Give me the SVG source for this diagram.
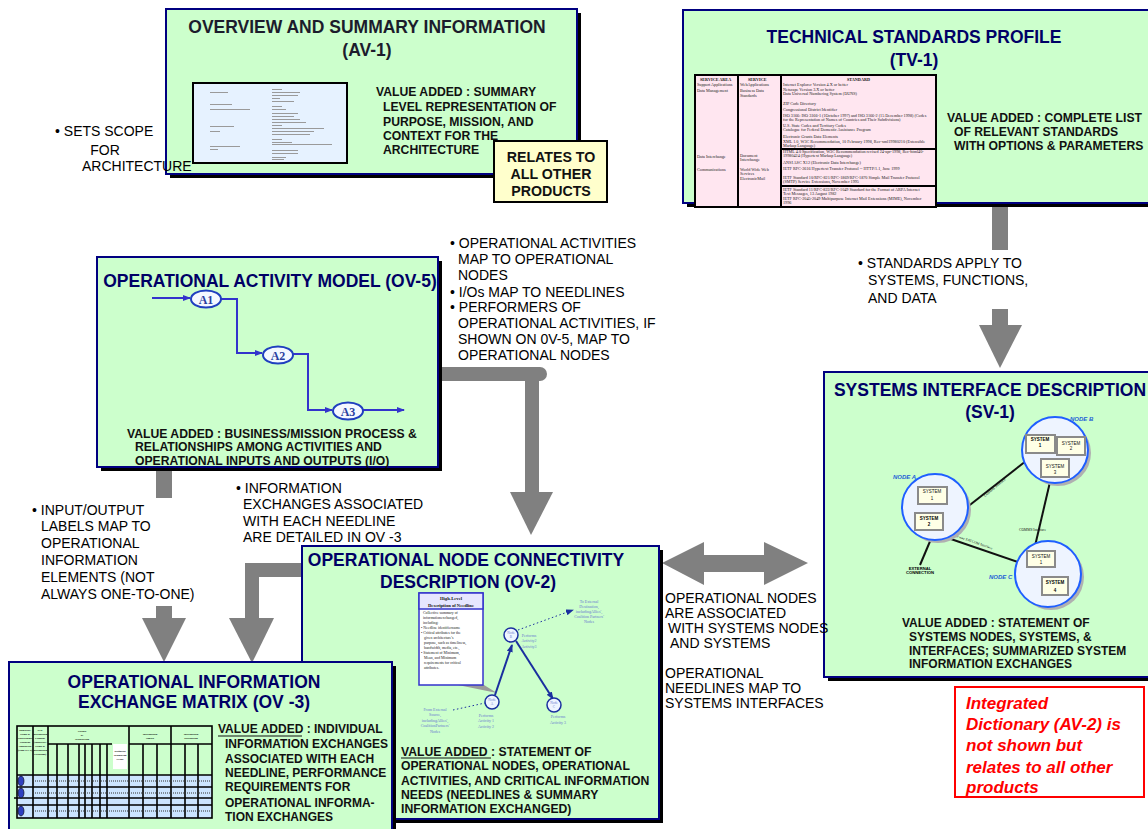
<svg xmlns="http://www.w3.org/2000/svg" width="1148" height="829" viewBox="0 0 1148 829">
<defs>
<style>
.box{fill:#ccffcc;stroke:#000080;stroke-width:2}
.shd{fill:#000}
.title{font-family:"Liberation Sans",Arial,sans-serif;font-weight:bold;font-size:17.5px;fill:#000066;text-anchor:middle}
.va{font-family:"Liberation Sans",Arial,sans-serif;font-weight:bold;font-size:12.2px;fill:#111}
.va12{font-family:"Liberation Sans",Arial,sans-serif;font-weight:bold;font-size:12px;fill:#111}
.note{font-family:"Liberation Sans",Arial,sans-serif;font-size:14px;fill:#000}
.gr{fill:#808080}
.grs{fill:none;stroke:#808080;stroke-width:14}
.tt{font-family:"Liberation Serif","Times New Roman",serif;font-size:4.2px;fill:#222}
.tth{font-family:"Liberation Serif","Times New Roman",serif;font-size:4.2px;font-weight:bold;fill:#111}
.tv{stroke:#000;stroke-width:2;fill:none}
.blu{fill:none;stroke:#3333cc;stroke-width:2}
.act{fill:#f4f8ff;stroke:#1f3fbf;stroke-width:2}
.actt{font-family:"Liberation Serif","Times New Roman",serif;font-weight:bold;font-size:12px;fill:#2a3f9f;text-anchor:middle}
.cir{fill:#eef4ff;stroke:#1f5fff;stroke-width:2}
.cshd{fill:#b0b0b0}
.sys{fill:#ffffe6;stroke:#8a8a8a;stroke-width:2}
.syst{font-family:"Liberation Sans",Arial,sans-serif;font-size:4.5px;fill:#111;text-anchor:middle}
.systb{font-family:"Liberation Sans",Arial,sans-serif;font-size:4.5px;font-weight:bold;fill:#000;text-anchor:middle}
.nodel{font-family:"Liberation Sans",Arial,sans-serif;font-size:6px;font-weight:bold;font-style:italic;fill:#1f5fd6}
.lnk{stroke:#111;stroke-width:2;fill:none}
.tiny{font-family:"Liberation Serif","Times New Roman",serif;font-size:3.6px;fill:#111}
.ovt{font-family:"Liberation Serif","Times New Roman",serif;font-size:4px;fill:#6a7ad0;text-anchor:middle}
.nb{font-family:"Liberation Serif","Times New Roman",serif;font-size:3.8px;fill:#222}
.nbh{font-family:"Liberation Serif","Times New Roman",serif;font-size:4.6px;font-weight:bold;fill:#111;text-anchor:middle}
.mx{font-family:"Liberation Serif","Times New Roman",serif;font-size:2.8px;font-weight:bold;fill:#111;text-anchor:middle}
.red{font-family:"Liberation Sans",Arial,sans-serif;font-size:17px;font-weight:bold;font-style:italic;fill:#ff0000}
.doc{fill:#9a9a9a}
</style>
<marker id="ab" viewBox="0 0 8 6" refX="7" refY="3" markerWidth="8" markerHeight="6" markerUnits="userSpaceOnUse" orient="auto"><path d="M0,0 L8,3 L0,6 z" fill="#3333cc"/></marker>
<marker id="an" viewBox="0 0 8 6" refX="7" refY="3" markerWidth="8" markerHeight="6" markerUnits="userSpaceOnUse" orient="auto"><path d="M0,0 L8,3 L0,6 z" fill="#1a2f9f"/></marker>
</defs>
<rect width="1148" height="829" fill="#fff"/>

<g id="connectors">
  <path class="grs" d="M436,374 H540" stroke-linecap="round"/>
  <path class="grs" d="M532,374 V495"/>
  <polygon class="gr" points="510,492 553,492 531,535"/>
  <rect class="gr" x="156" y="468" width="16" height="30"/>
  <rect class="gr" x="156" y="606" width="16" height="13"/>
  <polygon class="gr" points="142,618 186,618 164,662"/>
  <polyline class="grs" points="304,570 252,570 252,620" stroke-linejoin="miter"/>
  <polygon class="gr" points="229,618 274,618 252,663"/>
  <rect class="gr" x="992" y="203" width="16" height="47"/>
  <rect class="gr" x="992" y="309" width="16" height="17"/>
  <polygon class="gr" points="979,325 1022,325 1000,368"/>
  <polygon class="gr" points="662,563 704,542 704,555 764,555 764,542 808,563 764,585 764,572 704,572 704,585"/>
</g>

<g id="av1">
  <rect class="shd" x="170" y="13" width="411" height="165"/>
  <rect class="box" x="166" y="9" width="411" height="165"/>
  <text x="367" y="33" class="title" style="fill:#1c1c2c">OVERVIEW AND SUMMARY INFORMATION</text>
  <text x="367" y="56" class="title" style="fill:#1c1c2c">(AV-1)</text>
  <rect x="193" y="83" width="154" height="80" fill="#e6f2ff" stroke="#000" stroke-width="2"/>
  <g class="doc">
    <rect x="210" y="92" width="18" height="1"/>
    <rect x="210" y="104" width="22" height="1"/>
    <rect x="210" y="109" width="40" height="1"/>
    <rect x="210" y="126" width="24" height="1"/>
    <rect x="210" y="131" width="10" height="1"/>
    <rect x="210" y="146" width="30" height="1"/>
    <rect x="210" y="149" width="8" height="1"/>
    <rect x="272" y="89" width="10" height="1"/>
    <rect x="272" y="92" width="28" height="1"/>
    <rect x="272" y="95" width="26" height="1"/>
    <rect x="272" y="98" width="8" height="1"/>
    <rect x="272" y="101" width="22" height="1"/>
    <rect x="272" y="106" width="10" height="1"/>
    <rect x="272" y="109" width="14" height="1"/>
    <rect x="272" y="113" width="26" height="1"/>
    <rect x="272" y="116" width="22" height="1"/>
    <rect x="272" y="119" width="28" height="1"/>
    <rect x="272" y="122" width="34" height="1"/>
    <rect x="272" y="125" width="10" height="1"/>
    <rect x="272" y="128" width="52" height="1"/>
    <rect x="272" y="131" width="42" height="1"/>
    <rect x="272" y="134" width="38" height="1"/>
    <rect x="272" y="139" width="10" height="1"/>
    <rect x="272" y="142" width="20" height="1"/>
    <rect x="272" y="144" width="60" height="1"/>
    <rect x="272" y="150" width="26" height="1"/>
    <rect x="272" y="153" width="26" height="1"/>
    <rect x="272" y="157" width="14" height="1"/>
    <rect x="272" y="159" width="12" height="1"/>
  </g>
  <text class="va" x="376" y="96">VALUE ADDED : SUMMARY</text>
  <text class="va" x="383" y="111">LEVEL REPRESENTATION OF</text>
  <text class="va" x="383" y="126">PURPOSE, MISSION, AND</text>
  <text class="va" x="383" y="140">CONTEXT FOR THE</text>
  <text class="va" x="383" y="154">ARCHITECTURE</text>
</g>

<g id="relates">
  <rect x="494" y="141" width="113" height="61" fill="#ffffcc" stroke="#000" stroke-width="2"/>
  <text x="551" y="162" class="va12" text-anchor="middle" style="font-size:14.2px">RELATES TO</text>
  <text x="551" y="179" class="va12" text-anchor="middle" style="font-size:14.2px">ALL OTHER</text>
  <text x="551" y="196" class="va12" text-anchor="middle" style="font-size:14.2px">PRODUCTS</text>
</g>

<g id="note-scope">
  <text class="note" x="55" y="136">• SETS SCOPE</text>
  <text class="note" x="105" y="155" text-anchor="middle">FOR</text>
  <text class="note" x="82" y="171">ARCHITECTURE</text>
</g>

<g id="tv1">
  <rect class="shd" x="687" y="14" width="470" height="193"/>
  <rect class="box" x="683" y="10" width="470" height="193"/>
  <text x="914" y="43" class="title">TECHNICAL STANDARDS  PROFILE</text>
  <text x="914" y="66" class="title">(TV-1)</text>
  <rect x="695" y="75" width="241" height="132" fill="#ffe6f0"/>
  <g class="tt">
    <text class="tth" x="700" y="81">SERVICE AREA</text>
    <text class="tth" x="748" y="81">SERVICE</text>
    <text class="tth" x="847" y="81">STANDARD</text>
    <text x="697" y="86">Support Applications</text>
    <text x="697" y="92">Data Management</text>
    <text x="697" y="158">Data Interchange</text>
    <text x="697" y="171">Communications</text>
    <text x="740" y="86">WebApplications</text>
    <text x="740" y="92">Business Data</text>
    <text x="740" y="97">Standards</text>
    <text x="740" y="157">Document</text>
    <text x="740" y="161">Interchange</text>
    <text x="740" y="171">World Wide Web</text>
    <text x="740" y="175">Services</text>
    <text x="740" y="180">ElectronicMail</text>
    <text x="783" y="86">Internet Explorer Version 4.X or better</text>
    <text x="783" y="91">Netscape Version 3.X or better</text>
    <text x="783" y="95">Data Universal Numbering System (DUNS)</text>
    <text x="783" y="105">ZIP Code Directory</text>
    <text x="783" y="111">Congressional District Identifier</text>
    <text x="783" y="117">ISO 3166: ISO 3166-1 (1October 1997) and ISO 3166-2 (15 December 1998) (Codes</text>
    <text x="783" y="121">for the Representation of Names of Countries and Their Subdivisions)</text>
    <text x="783" y="127">U.S. State Codes and Territory Codes</text>
    <text x="783" y="131">Catalogue for Federal Domestic Assistance Program</text>
    <text x="783" y="138">Electronic Grants Data Elements</text>
    <text x="783" y="143">XML 1.0, W3C Recommendation, 10 February 1998, Rec-xml19980210 (Extensible</text>
    <text x="783" y="147">Markup Language)</text>
    <text x="783" y="153">HTML 4.0 Specification, W3C Recommendation revised 24-apr-1998, Rec-html40-</text>
    <text x="783" y="157">19980424 (Hypertext Markup Language)</text>
    <text x="783" y="164">ANSI ASC X12 (Electronic Data Interchange)</text>
    <text x="783" y="170">IETF RFC-2616 Hypertext Transfer Protocol -- HTTP/1.1, June 1999</text>
    <text x="783" y="179">IETF Standard 10/RFC-821/RFC-1869/RFC-1870 Simple Mail Transfer Protocol</text>
    <text x="783" y="183">(SMTP) Service Extensions, November 1995</text>
    <text x="783" y="191">IETF Standard 11/RFC-822/RFC-1049 Standard for the Format of ARPA Internet</text>
    <text x="783" y="195">Text Messages, 13 August 1982</text>
    <text x="783" y="200">IETF RFC-2045-2049 Multipurpose Internet Mail Extensions (MIME), November</text>
    <text x="783" y="204">1996</text>
  </g>
  <rect class="tv" x="695" y="75" width="241" height="132"/>
  <line class="tv" x1="738" y1="75" x2="738" y2="207"/>
  <line class="tv" x1="781" y1="75" x2="781" y2="207"/>
  <line class="tv" x1="781" y1="149" x2="936" y2="149"/>
  <line class="tv" x1="781" y1="186" x2="936" y2="186"/>
  <text class="va" x="947" y="122">VALUE ADDED : COMPLETE LIST</text>
  <text class="va" x="954" y="136">OF RELEVANT STANDARDS</text>
  <text class="va" x="954" y="150">WITH OPTIONS &amp; PARAMETERS</text>
</g>

<g id="note-standards">
  <text class="note" x="858" y="268">• STANDARDS APPLY TO</text>
  <text class="note" x="868" y="285">SYSTEMS, FUNCTIONS,</text>
  <text class="note" x="868" y="303">AND DATA</text>
</g>

<g id="ov5">
  <rect class="shd" x="101" y="261" width="341" height="210"/>
  <rect class="box" x="97" y="257" width="341" height="210"/>
  <text x="270" y="287" class="title">OPERATIONAL ACTIVITY MODEL (OV-5)</text>
  <path class="blu" d="M152,298 H190" marker-end="url(#ab)"/>
  <path class="blu" d="M221,299 H237 V353 H262" marker-end="url(#ab)"/>
  <path class="blu" d="M293,354 H308 V410 H332" marker-end="url(#ab)"/>
  <path class="blu" d="M363,410 H404" marker-end="url(#ab)"/>
  <ellipse class="act" cx="206" cy="299" rx="15" ry="8.5"/>
  <text class="actt" x="206" y="303.5">A1</text>
  <ellipse class="act" cx="278" cy="355" rx="15" ry="8.5"/>
  <text class="actt" x="278" y="359.5">A2</text>
  <ellipse class="act" cx="348" cy="411" rx="15" ry="8.5"/>
  <text class="actt" x="348" y="415.5">A3</text>
  <text class="va" x="127" y="438">VALUE ADDED : BUSINESS/MISSION PROCESS &amp;</text>
  <text class="va" x="135" y="451">RELATIONSHIPS AMONG ACTIVITIES AND</text>
  <text class="va" x="135" y="465">OPERATIONAL INPUTS AND OUTPUTS (I/O)</text>
</g>

<g id="note-mapping">
  <text class="note" x="450" y="248">• OPERATIONAL ACTIVITIES</text>
  <text class="note" x="458" y="264">MAP TO OPERATIONAL</text>
  <text class="note" x="458" y="280">NODES</text>
  <text class="note" x="450" y="297">• I/Os MAP TO NEEDLINES</text>
  <text class="note" x="450" y="312">• PERFORMERS OF</text>
  <text class="note" x="458" y="328">OPERATIONAL ACTIVITIES, IF</text>
  <text class="note" x="458" y="344">SHOWN ON 0V-5,  MAP TO</text>
  <text class="note" x="458" y="360">OPERATIONAL NODES</text>
</g>

<g id="note-io">
  <text class="note" x="32" y="515">• INPUT/OUTPUT</text>
  <text class="note" x="41" y="531">LABELS MAP TO</text>
  <text class="note" x="41" y="548">OPERATIONAL</text>
  <text class="note" x="41" y="565">INFORMATION</text>
  <text class="note" x="41" y="582">ELEMENTS (NOT</text>
  <text class="note" x="41" y="599">ALWAYS ONE-TO-ONE)</text>
</g>

<g id="note-ie">
  <text class="note" x="236" y="493">• INFORMATION</text>
  <text class="note" x="243" y="509">EXCHANGES ASSOCIATED</text>
  <text class="note" x="243" y="526">WITH EACH NEEDLINE</text>
  <text class="note" x="243" y="542">ARE DETAILED IN OV -3</text>
</g>

<g id="sv1">
  <rect class="shd" x="828" y="376" width="330" height="305"/>
  <rect class="box" x="824" y="372" width="330" height="305"/>
  <text x="990" y="396" class="title">SYSTEMS INTERFACE DESCRIPTION</text>
  <text x="990" y="418" class="title">(SV-1)</text>
  <line class="lnk" x1="966" y1="508" x2="1026" y2="461"/>
  <line class="lnk" x1="1050" y1="482" x2="1035" y2="546"/>
  <line class="lnk" x1="945" y1="537" x2="1018" y2="562" stroke-width="2.6"/>
  <line class="lnk" x1="931" y1="539" x2="920" y2="565"/>
  <text class="tiny" transform="translate(985,497) rotate(-40)">COMMS Interface</text>
  <text class="tiny" x="1019" y="531">COMMS Interface</text>
  <text class="tiny" transform="translate(956,537) rotate(19)">2-way SATCOM Interface</text>
  <text class="systb" x="920" y="570" style="font-size:4.2px">EXTERNAL</text>
  <text class="systb" x="920" y="574" style="font-size:4.2px">CONNECTION</text>
  <circle class="cshd" cx="1058" cy="453" r="33"/>
  <circle class="cir" cx="1055" cy="450" r="33"/>
  <circle class="cshd" cx="938" cy="510" r="33"/>
  <circle class="cir" cx="935" cy="507" r="33"/>
  <circle class="cshd" cx="1051" cy="577" r="33"/>
  <circle class="cir" cx="1048" cy="574" r="33"/>
  <text class="nodel" x="1070" y="421">NODE B</text>
  <text class="nodel" x="893" y="479">NODE A</text>
  <text class="nodel" x="989" y="579">NODE C</text>
  <rect class="sys" x="1026" y="435" width="29" height="18"/>
  <text class="systb" x="1040" y="441">SYSTEM</text><text class="systb" x="1040" y="447">1</text>
  <rect class="sys" x="1057" y="437" width="28" height="18"/>
  <text class="syst" x="1071" y="445">SYSTEM</text><text class="syst" x="1071" y="450">2</text>
  <rect class="sys" x="1041" y="459" width="28" height="18"/>
  <text class="syst" x="1055" y="468">SYSTEM</text><text class="syst" x="1055" y="474">3</text>
  <rect class="sys" x="918" y="487" width="29" height="17"/>
  <text class="syst" x="932" y="493">SYSTEM</text><text class="syst" x="932" y="500">1</text>
  <rect class="sys" x="915" y="513" width="28" height="17"/>
  <text class="systb" x="929" y="520">SYSTEM</text><text class="systb" x="929" y="526">2</text>
  <rect class="sys" x="1027" y="551" width="28" height="16"/>
  <text class="syst" x="1041" y="558">SYSTEM</text><text class="syst" x="1041" y="564">1</text>
  <rect class="sys" x="1042" y="577" width="26" height="18"/>
  <text class="systb" x="1055" y="584">SYSTEM</text><text class="systb" x="1055" y="592">4</text>
  <text class="va12" x="902" y="627">VALUE ADDED : STATEMENT OF</text>
  <text class="va12" x="909" y="641">SYSTEMS NODES, SYSTEMS, &amp;</text>
  <text class="va12" x="909" y="655">INTERFACES; SUMMARIZED SYSTEM</text>
  <text class="va12" x="909" y="668">INFORMATION EXCHANGES</text>
</g>

<g id="note-assoc">
  <text class="note" x="665" y="603">OPERATIONAL NODES</text>
  <text class="note" x="665" y="618">ARE ASSOCIATED</text>
  <text class="note" x="668" y="633">WITH SYSTEMS NODES</text>
  <text class="note" x="670" y="648">AND SYSTEMS</text>
  <text class="note" x="665" y="678">OPERATIONAL</text>
  <text class="note" x="665" y="693">NEEDLINES MAP TO</text>
  <text class="note" x="665" y="708">SYSTEMS INTERFACES</text>
</g>

<g id="ov2">
  <rect class="shd" x="306" y="550" width="357" height="273"/>
  <rect class="box" x="302" y="546" width="357" height="273"/>
  <text x="466" y="566" class="title">OPERATIONAL NODE CONNECTIVITY</text>
  <text x="468" y="588" class="title">DESCRIPTION (OV-2)</text>
  <polygon points="458,685 484,685 497,693" fill="#9a9a9a"/>
  <rect x="419" y="593" width="64" height="92" fill="#fff" stroke="#3333cc" stroke-width="1.5"/>
  <rect x="419" y="593" width="64" height="16" fill="#e6e6ff" stroke="#3333cc" stroke-width="1.5"/>
  <text class="nbh" x="451" y="600">High-Level</text>
  <text class="nbh" x="451" y="607">Description of Needline</text>
  <g class="nb">
    <text x="423" y="614">Collective summary of</text>
    <text x="423" y="619">informationexchanged,</text>
    <text x="423" y="624">including:</text>
    <text x="421" y="629">•  Needline identifiername</text>
    <text x="421" y="634">•  Critical  attributes  for the</text>
    <text x="424" y="639">given  architecture's</text>
    <text x="424" y="644">purpose, such as timeliness,</text>
    <text x="424" y="649">bandwidth, media, etc.,</text>
    <text x="421" y="654">•  Statement of Minimum,</text>
    <text x="424" y="659">Mean, and Minimum</text>
    <text x="424" y="664">requirements for critical</text>
    <text x="424" y="669">attributes.</text>
  </g>
  <path d="M453,710 L485,703" fill="none" stroke="#1a2f9f" stroke-width="1" stroke-dasharray="1.5,2.5"/>
  <path d="M518,630 L573,610" fill="none" stroke="#1a2f9f" stroke-width="1" stroke-dasharray="1.5,2.5" marker-end="url(#an)"/>
  <path d="M495,695 L512,645" fill="none" stroke="#1a2f9f" stroke-width="2" marker-end="url(#an)"/>
  <path d="M516,641 L553,699" fill="none" stroke="#1a2f9f" stroke-width="2" marker-end="url(#an)"/>
  <circle cx="511" cy="635" r="7" fill="#eef4ff" stroke="#1a2f9f" stroke-width="1.5"/>
  <text class="ovt" x="511" y="634" style="font-size:3.4px">Node</text><text class="ovt" x="511" y="638" style="font-size:3.4px">B</text>
  <circle cx="492" cy="702" r="7" fill="#eef4ff" stroke="#1a2f9f" stroke-width="1.5"/>
  <text class="ovt" x="492" y="701" style="font-size:3.4px">Node</text><text class="ovt" x="492" y="705" style="font-size:3.4px">A</text>
  <circle cx="554" cy="705" r="7" fill="#eef4ff" stroke="#1a2f9f" stroke-width="1.5"/>
  <text class="ovt" x="554" y="704" style="font-size:3.4px">Node</text><text class="ovt" x="554" y="708" style="font-size:3.4px">C</text>
  <text class="ovt" x="589" y="603">To External</text>
  <text class="ovt" x="589" y="608">Destination,</text>
  <text class="ovt" x="589" y="613">includingAllies',</text>
  <text class="ovt" x="589" y="618">Coalition Partners'</text>
  <text class="ovt" x="589" y="623">Nodes</text>
  <text class="ovt" x="529" y="637">Performs</text>
  <text class="ovt" x="529" y="642">Activity2</text>
  <text class="ovt" x="529" y="648">Activity3</text>
  <text class="ovt" x="435" y="711">From External</text>
  <text class="ovt" x="435" y="716">Source,</text>
  <text class="ovt" x="435" y="722">includingAllies',</text>
  <text class="ovt" x="435" y="727">CoalitionPartners'</text>
  <text class="ovt" x="435" y="733">Nodes</text>
  <text class="ovt" x="486" y="717">Performs</text>
  <text class="ovt" x="486" y="722">Activity 1</text>
  <text class="ovt" x="486" y="728">Activity 2</text>
  <text class="ovt" x="558" y="718">Performs</text>
  <text class="ovt" x="558" y="724">Activity 3</text>
  <text class="va" x="401" y="756">VALUE ADDED : STATEMENT OF</text>
  <line x1="401" y1="758" x2="491" y2="758" stroke="#111" stroke-width="1.2"/>
  <text class="va" x="401" y="770">OPERATIONAL NODES, OPERATIONAL</text>
  <text class="va" x="401" y="785">ACTIVITIES,  AND CRITICAL INFORMATION</text>
  <text class="va" x="401" y="799">NEEDS  (NEEDLINES &amp; SUMMARY</text>
  <text class="va" x="401" y="813">INFORMATION EXCHANGED)</text>
</g>

<g id="ov3">
  <rect class="shd" x="13" y="666" width="383" height="180"/>
  <rect class="box" x="9" y="662" width="383" height="180"/>
  <text x="194" y="688" class="title">OPERATIONAL INFORMATION</text>
  <text x="194" y="708" class="title">EXCHANGE MATRIX (OV -3)</text>
  <rect x="17" y="726" width="195" height="92" fill="#ccffcc"/>
  <rect x="113" y="744" width="14" height="25" fill="#fff"/>
  <rect x="17" y="775" width="195" height="43" fill="#cce4ff"/>
  <g stroke="#000" stroke-width="1.6" fill="none">
    <rect x="17" y="726" width="195" height="92"/>
    <line x1="33" y1="726" x2="33" y2="818"/>
    <line x1="48" y1="726" x2="48" y2="818"/>
    <line x1="57" y1="744" x2="57" y2="818"/>
    <line x1="68" y1="744" x2="68" y2="818"/>
    <line x1="79" y1="744" x2="79" y2="818"/>
    <line x1="85" y1="744" x2="85" y2="818"/>
    <line x1="92" y1="744" x2="92" y2="818"/>
    <line x1="100" y1="744" x2="100" y2="818"/>
    <line x1="107" y1="744" x2="107" y2="818"/>
    <line x1="129" y1="726" x2="129" y2="818"/>
    <line x1="143" y1="744" x2="143" y2="818"/>
    <line x1="157" y1="744" x2="157" y2="818"/>
    <line x1="171" y1="726" x2="171" y2="818"/>
    <line x1="185" y1="744" x2="185" y2="818"/>
    <line x1="198" y1="744" x2="198" y2="818"/>
    <line x1="48" y1="744" x2="112" y2="744"/>
    <line x1="129" y1="744" x2="212" y2="744"/>
    <line x1="17" y1="775" x2="212" y2="775"/>
    <line x1="17" y1="787" x2="212" y2="787"/>
    <line x1="14" y1="798" x2="212" y2="798"/>
    <line x1="17" y1="805" x2="212" y2="805"/>
  </g>
  <g stroke="#333" stroke-width="1.2" stroke-dasharray="1,1">
    <line x1="35" y1="781" x2="210" y2="781"/>
    <line x1="35" y1="793" x2="210" y2="793"/>
    <line x1="35" y1="811" x2="210" y2="811"/>
  </g>
  <ellipse cx="21" cy="781" rx="3" ry="5" fill="#2f3fbf" stroke="#000" stroke-width="0.6"/>
  <ellipse cx="21" cy="793" rx="3" ry="5" fill="#2f3fbf" stroke="#000" stroke-width="0.6"/>
  <ellipse cx="21" cy="811" rx="3" ry="5" fill="#2f3fbf" stroke="#000" stroke-width="0.6"/>
  <g class="mx">
    <text x="25" y="731">Identifier/</text>
    <text x="25" y="735">Name of</text>
    <text x="25" y="739">Operational</text>
    <text x="25" y="743">Needline</text>
    <text x="25" y="747">Supported</text>
    <text x="25" y="751">(from OV-2)</text>
    <text x="40" y="731">IER</text>
    <text x="40" y="735">Information</text>
    <text x="40" y="739">Element</text>
    <text x="40" y="743">(Identifier/</text>
    <text x="40" y="747">Name of</text>
    <text x="40" y="751">Information</text>
    <text x="40" y="755">Exchange)</text>
    <text x="82" y="732">Nature</text>
    <text x="82" y="736">of</text>
    <text x="82" y="740">Transaction</text>
    <text x="120" y="752">Required</text>
    <text x="120" y="756">Triggering</text>
    <text x="120" y="760">Event</text>
    <text x="150" y="735">Information</text>
    <text x="150" y="739">Source</text>
    <text x="191" y="735">Information</text>
    <text x="191" y="739">Destination</text>
  </g>
  <text class="va12" x="218" y="733">VALUE ADDED : INDIVIDUAL</text>
  <line x1="218" y1="736" x2="302" y2="736" stroke="#111" stroke-width="1.2"/>
  <text class="va12" x="225" y="748">INFORMATION EXCHANGES</text>
  <text class="va12" x="225" y="763">ASSOCIATED WITH EACH</text>
  <text class="va12" x="225" y="777">NEEDLINE, PERFORMANCE</text>
  <text class="va12" x="225" y="791">REQUIREMENTS FOR</text>
  <text class="va12" x="225" y="807">OPERATIONAL INFORMA-</text>
  <text class="va12" x="225" y="821">TION EXCHANGES</text>
</g>

<g id="av2-note">
  <rect x="955" y="687" width="189" height="110" fill="#fff" stroke="#ff0000" stroke-width="2"/>
  <text class="red" x="966" y="709">Integrated</text>
  <text class="red" x="966" y="730">Dictionary (AV-2) is</text>
  <text class="red" x="966" y="751">not shown but</text>
  <text class="red" x="966" y="773">relates to all other</text>
  <text class="red" x="966" y="793">products</text>
</g>
</svg>
